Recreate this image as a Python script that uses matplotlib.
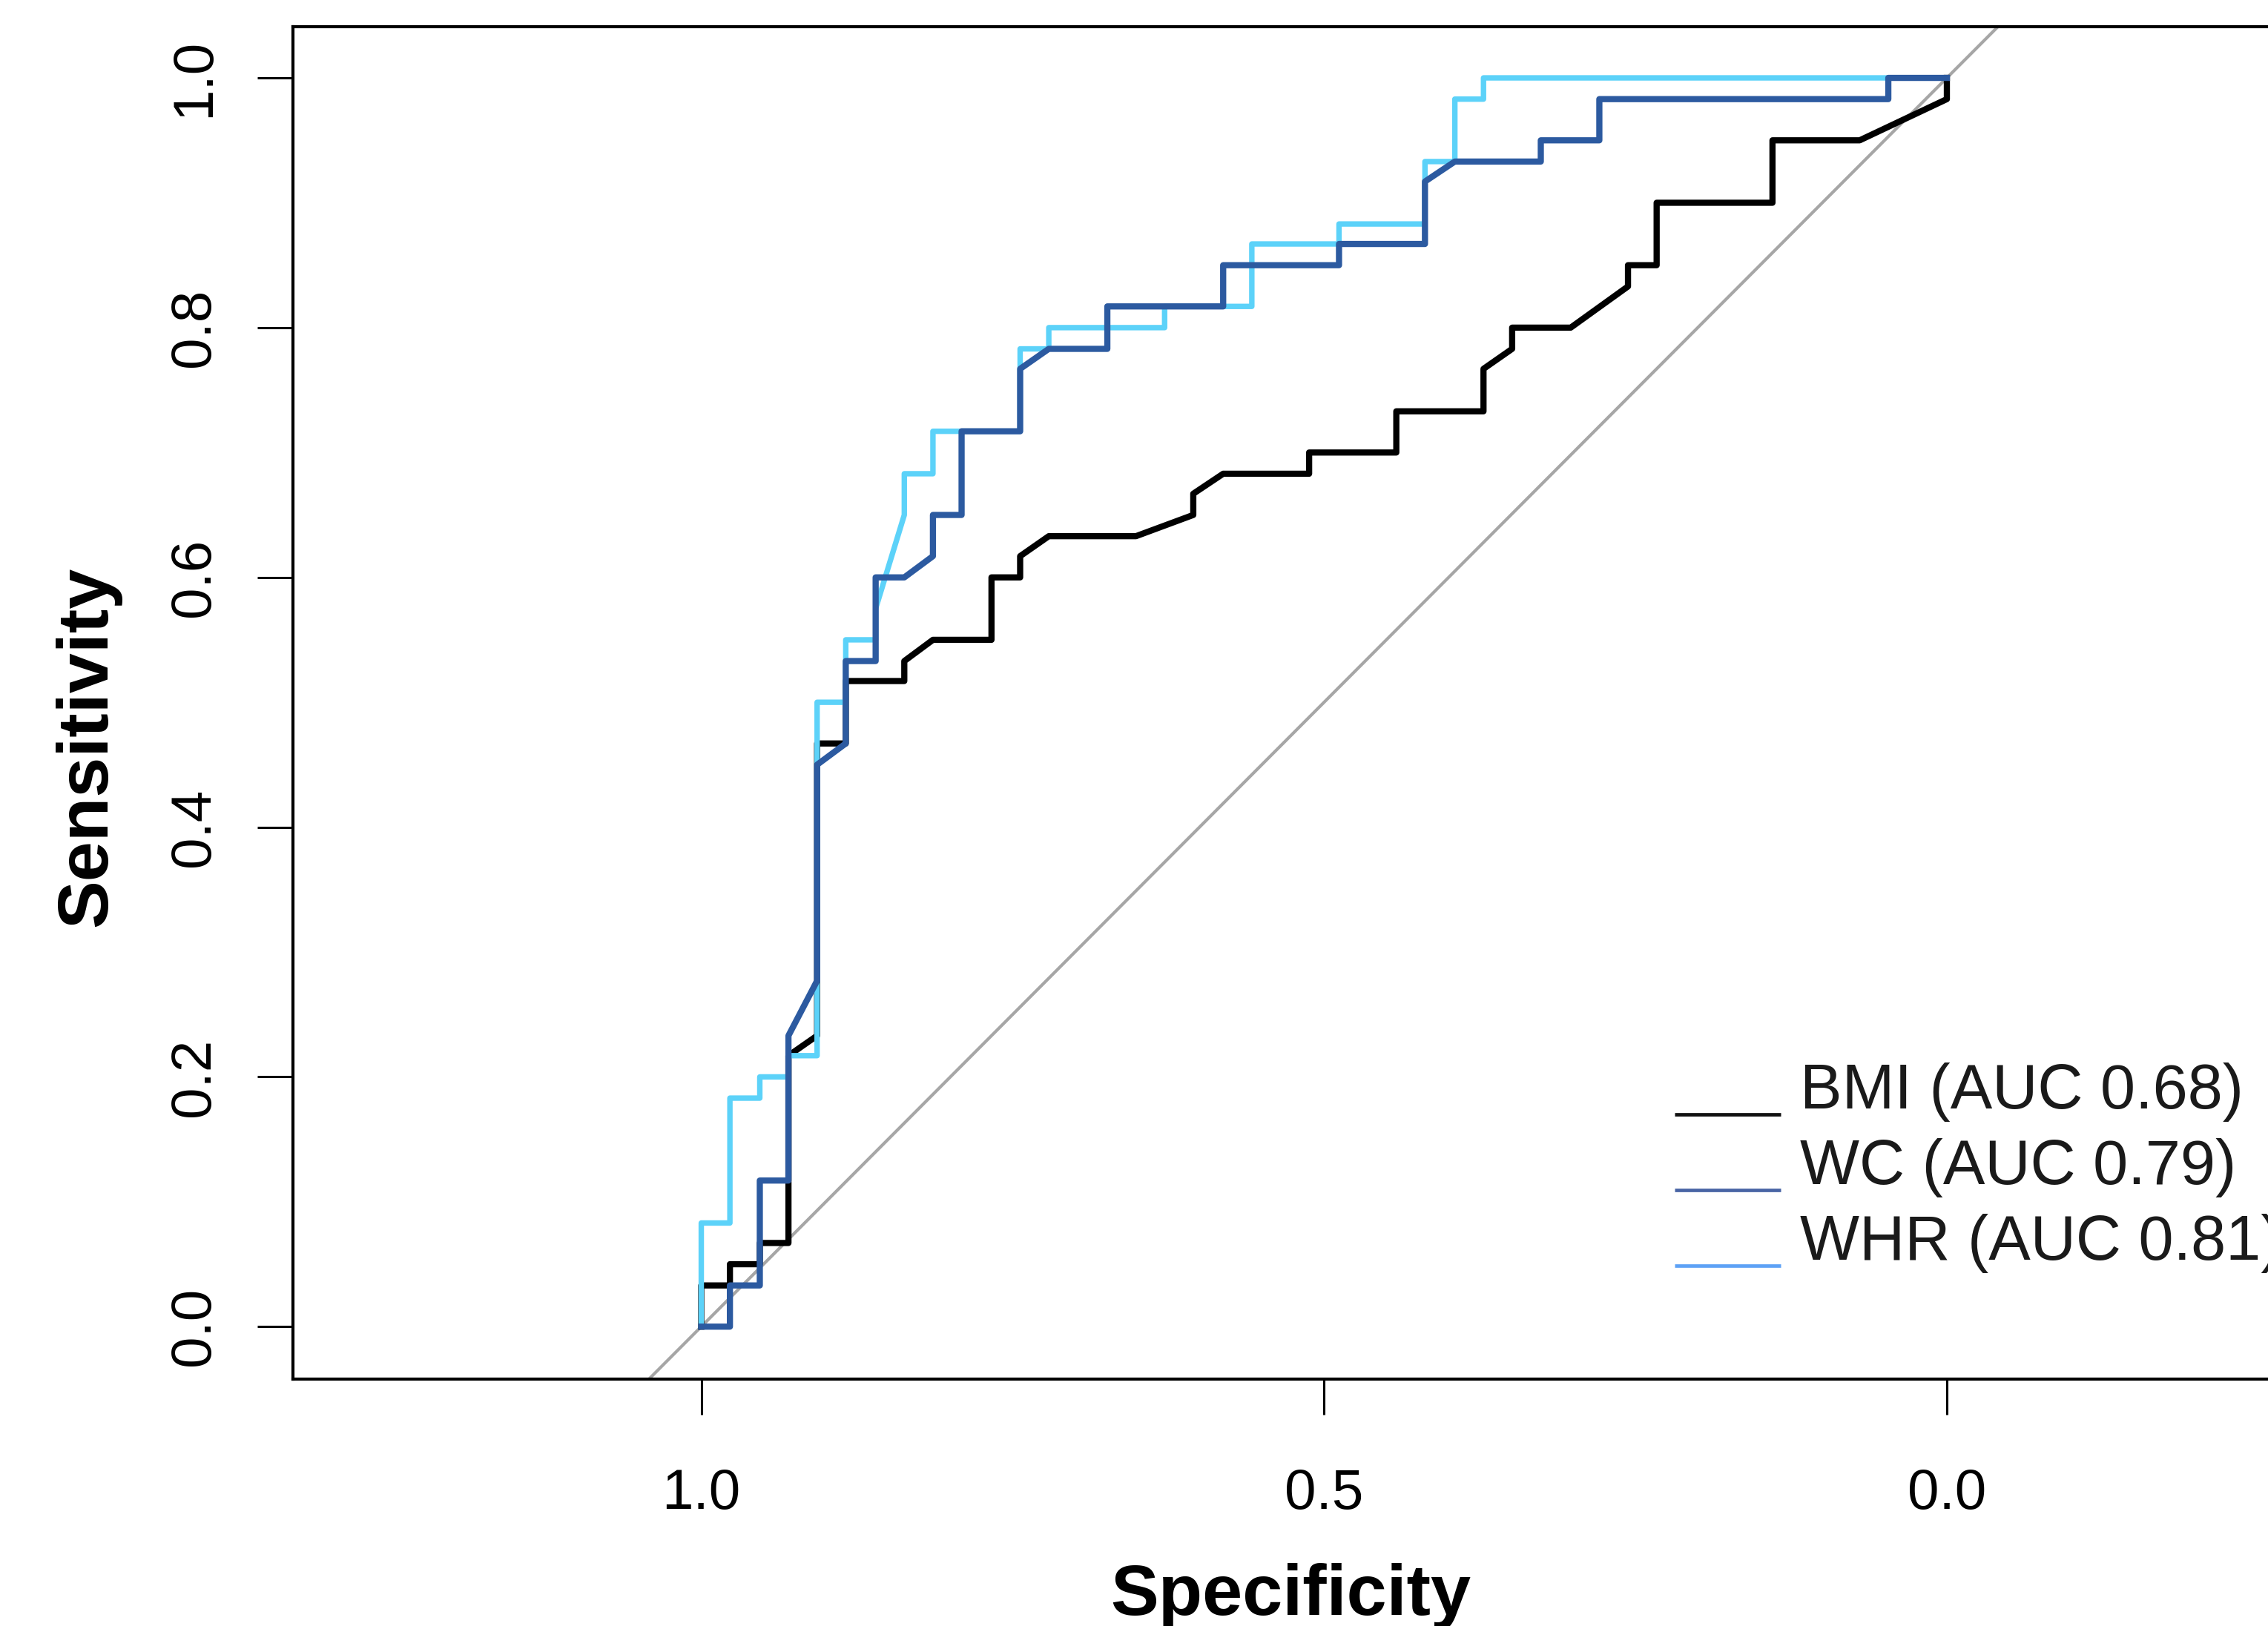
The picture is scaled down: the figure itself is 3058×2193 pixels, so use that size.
import matplotlib
matplotlib.use('Agg')
import matplotlib.pyplot as plt

plt.rcParams['font.family'] = ['Liberation Sans', 'DejaVu Sans']

# ROC curves (specificity, sensitivity)
bmi_spec = [1.000, 1.000, 0.977, 0.977, 0.953, 0.953, 0.930, 0.930, 0.907, 0.907,
            0.884, 0.884, 0.837, 0.837, 0.814, 0.767, 0.767, 0.744, 0.744, 0.721,
            0.651, 0.605, 0.605, 0.581, 0.512, 0.512, 0.442, 0.442, 0.372, 0.372,
            0.349, 0.349, 0.302, 0.256, 0.256, 0.233, 0.233, 0.140, 0.140, 0.070,
            0.000, 0.000]
bmi_sens = [0.000, 0.033, 0.033, 0.050, 0.050, 0.067, 0.067, 0.217, 0.233, 0.467,
            0.467, 0.517, 0.517, 0.533, 0.550, 0.550, 0.600, 0.600, 0.617, 0.633,
            0.633, 0.650, 0.667, 0.683, 0.683, 0.700, 0.700, 0.733, 0.733, 0.767,
            0.783, 0.800, 0.800, 0.833, 0.850, 0.850, 0.900, 0.900, 0.950, 0.950,
            0.983, 1.000]

wc_spec = [1.000, 0.977, 0.977, 0.953, 0.953, 0.930, 0.930, 0.907, 0.907, 0.884,
           0.884, 0.860, 0.860, 0.837, 0.814, 0.814, 0.791, 0.791, 0.744, 0.744,
           0.721, 0.674, 0.674, 0.581, 0.581, 0.488, 0.488, 0.419, 0.419, 0.395,
           0.326, 0.326, 0.279, 0.279, 0.047, 0.047, 0.000]
wc_sens = [0.000, 0.000, 0.033, 0.033, 0.117, 0.117, 0.233, 0.277, 0.450, 0.467,
           0.533, 0.533, 0.600, 0.600, 0.617, 0.650, 0.650, 0.717, 0.717, 0.767,
           0.783, 0.783, 0.817, 0.817, 0.850, 0.850, 0.867, 0.867, 0.917, 0.933,
           0.933, 0.950, 0.950, 0.983, 0.983, 1.000, 1.000]

whr_spec = [1.000, 1.000, 0.977, 0.977, 0.953, 0.953, 0.930, 0.930, 0.907, 0.907,
            0.884, 0.884, 0.860, 0.860, 0.837, 0.837, 0.814, 0.814, 0.744, 0.744,
            0.721, 0.721, 0.628, 0.628, 0.558, 0.558, 0.488, 0.488, 0.419, 0.419,
            0.395, 0.395, 0.372, 0.372, 0.000]
whr_sens = [0.000, 0.083, 0.083, 0.183, 0.183, 0.200, 0.200, 0.217, 0.217, 0.500,
            0.500, 0.550, 0.550, 0.575, 0.650, 0.683, 0.683, 0.717, 0.717, 0.783,
            0.783, 0.800, 0.800, 0.817, 0.817, 0.867, 0.867, 0.883, 0.883, 0.933,
            0.933, 0.983, 0.983, 1.000, 1.000]

x_ticks = [1.0, 0.5, 0.0]
x_tick_labels = ['1.0', '0.5', '0.0']
y_ticks = [0.0, 0.2, 0.4, 0.6, 0.8, 1.0]
y_tick_labels = ['0.0', '0.2', '0.4', '0.6', '0.8', '1.0']

legend_labels = ['BMI (AUC 0.68)', 'WC (AUC 0.79)', 'WHR (AUC 0.81)']

BLACK = '#000000'
WC_BLUE = '#2c5aa0'
WHR_CYAN = '#5cd2f9'
legend_colors = ['#111111', '#4864a4', '#5ea2f6']

fig = plt.figure(figsize=(30.58, 21.93), dpi=100)
# axes run past the right edge of the picture, as in the original crop
ax = fig.add_axes([0.12917, 0.15185, 0.9091, 0.83174])
ax.set_xlim(1.3278, -0.3275)
ax.set_ylim(-0.042, 1.041)

# chance line
ax.axline((1, 0), (0, 1), color='#a6a6a6', lw=3.0, zorder=1)

ax.plot(bmi_spec, bmi_sens, color=BLACK, lw=6.0, zorder=2)
ax.plot(whr_spec, whr_sens, color=WHR_CYAN, lw=5.3, zorder=3)
ax.plot(wc_spec, wc_sens, color=WC_BLUE, lw=6.0, zorder=4)

for side in ['left', 'bottom', 'top', 'right']:
    ax.spines[side].set_linewidth(3)

ax.set_xticks(x_ticks)
ax.set_xticklabels(x_tick_labels)
ax.set_yticks(y_ticks)
ax.set_yticklabels(y_tick_labels)
ax.tick_params(axis='both', direction='out', length=34.5, width=2.2, labelsize=55)
ax.tick_params(axis='x', pad=52)
ax.tick_params(axis='y', pad=35, labelrotation=90)
plt.setp(ax.get_yticklabels(), va='center')

ax.set_xlabel('Specificity', fontsize=70, fontweight='bold')
ax.xaxis.set_label_coords(0.4838, -0.1743)
ax.xaxis.label.set_va('baseline')
ax.set_ylabel('Sensitivity', fontsize=70, fontweight='bold')
ax.yaxis.set_label_coords(-0.0906, 0.4677)
ax.yaxis.label.set_va('baseline')

# legend: short line under each label, drawn by hand
row_gap = 0.0559
for i, (name, col) in enumerate(zip(legend_labels, legend_colors)):
    y_row = 0.1957 - i * row_gap
    ax.plot([0.6701, 0.7216], [y_row, y_row], transform=ax.transAxes,
            color=col, lw=3.4, solid_capstyle='butt', clip_on=False)
    ax.text(0.7309, y_row + 0.0044, name, transform=ax.transAxes,
            fontsize=61, va='baseline', ha='left', color='#1a1a1a')

fig.savefig('out.png', dpi=100)
